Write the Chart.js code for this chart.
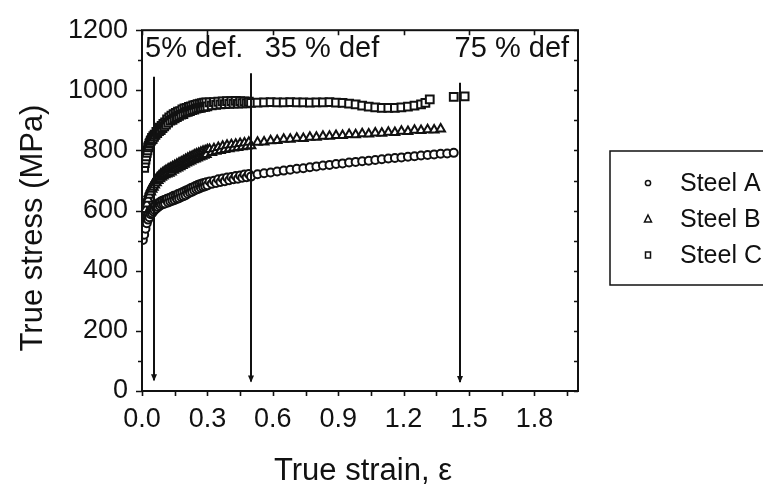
<!DOCTYPE html>
<html><head><meta charset="utf-8">
<script src="https://cdn.jsdelivr.net/npm/chart.js@4.4.1/dist/chart.umd.min.js"></script>
<style>html,body{margin:0;padding:0;background:#fff;overflow:hidden}</style>
</head><body>
<canvas id="c" width="763" height="490"></canvas>
<script>
// ---- data ----
const seriesNames = ["Steel A", "Steel B", "Steel C"];

const strainA = [0.004,0.007,0.010,0.013,0.016,0.019,0.022,0.025,0.028,0.031,0.034,0.037,0.040,0.043,0.046,0.049,0.052,0.055,0.058,
  0.062,0.066,0.070,0.074,0.078,0.082,0.086,0.090,0.094,0.098,0.102,0.106,0.110,
  0.115,0.120,0.125,0.130,0.135,0.140,0.145,0.150,0.155,0.160,0.165,0.170,0.175,0.180,0.185,0.190,0.195,0.200,0.205,0.210,0.215,0.220,0.225,0.230,0.235,0.240,0.245,0.250,0.255,0.260,0.265,0.270,0.275,0.280,0.285,0.290,0.295,0.300,
  0.31,0.32,0.33,0.34,0.35,0.36,0.37,0.38,0.39,0.40,0.41,0.42,0.43,0.44,0.45,0.46,0.47,0.48,0.49,0.50,
  0.53,0.56,0.59,0.62,0.65,0.68,0.71,0.74,0.77,0.80,0.83,0.86,0.89,0.92,0.95,0.98,1.01,1.04,1.07,1.10,1.13,1.16,1.19,1.22,1.25,1.28,1.31,1.34,1.37,1.40,1.43];
const stressA = [502,522,520,546,540,565,558,580,570,589,578,598,588,603,591,608,597,613,602,
  617,607,622,612,626,616,630,620,633,622,635,624,637,
  639,627,642,630,645,633,649,635,650,639,655,641,658,645,661,648,664,651,668,656,671,660,675,663,678,667,682,670,685,673,688,676,690,679,692,681,694,684,
  697,689,699,692,704,695,707,698,710,701,712,704,715,706,717,709,720,711,722,713,
  721,724,727,730,733,736,739,741,744,747,750,752,755,757,760,762,764,766,768,771,773,775,777,779,781,783,785,787,789,790,792];

const strainB = [0.004,0.007,0.010,0.013,0.016,0.019,0.022,0.025,0.028,0.031,0.034,0.037,0.040,0.043,0.046,0.049,0.052,0.055,0.058,
  0.062,0.066,0.070,0.074,0.078,0.082,0.086,0.090,0.094,0.098,0.102,0.106,0.110,
  0.115,0.120,0.125,0.130,0.135,0.140,0.145,0.150,0.155,0.160,0.165,0.170,0.175,0.180,0.185,0.190,0.195,0.200,0.205,0.210,0.215,0.220,0.225,0.230,0.235,0.240,0.245,0.250,0.255,0.260,0.265,0.270,0.275,0.280,0.285,0.290,0.295,0.300,
  0.31,0.32,0.33,0.34,0.35,0.36,0.37,0.38,0.39,0.40,0.41,0.42,0.43,0.44,0.45,0.46,0.47,0.48,0.49,0.50,
  0.53,0.56,0.59,0.62,0.65,0.68,0.71,0.74,0.77,0.80,0.83,0.86,0.89,0.92,0.95,0.98,1.01,1.04,1.07,1.10,1.13,1.16,1.19,1.22,1.25,1.28,1.31,1.34,1.37];
const stressB = [552,578,582,603,604,625,622,642,638,656,651,668,662,677,671,686,678,693,685,
  701,693,709,700,715,706,721,711,725,715,729,719,733,
  722,738,724,742,728,746,734,750,738,754,742,758,746,762,750,766,754,770,758,774,762,778,765,781,769,785,772,788,775,791,778,794,781,797,784,799,787,802,
  803,793,806,797,810,800,814,803,817,806,819,808,821,810,823,812,825,814,827,816,
  827,828,832,833,837,837,841,840,844,844,847,847,850,850,853,852,856,855,858,857,861,860,864,863,867,866,869,868,871];

const strainC = [0.010,0.013,0.016,0.019,0.022,0.025,0.028,0.031,0.034,0.037,0.040,0.043,0.046,0.049,0.052,0.055,0.058,
  0.062,0.066,0.070,0.074,0.078,0.082,0.086,0.090,0.094,0.098,0.102,0.106,0.110,
  0.115,0.120,0.125,0.130,0.135,0.140,0.145,0.150,0.155,0.160,0.165,0.170,0.175,0.180,0.185,0.190,0.195,0.200,0.205,0.210,0.215,0.220,0.225,0.230,0.235,0.240,0.245,0.250,0.255,0.260,0.265,0.270,0.275,0.280,0.285,0.290,0.295,0.300,
  0.31,0.32,0.33,0.34,0.35,0.36,0.37,0.38,0.39,0.40,0.41,0.42,0.43,0.44,0.45,0.46,0.47,0.48,0.49,0.50,
  0.53,0.56,0.59,0.62,0.65,0.68,0.71,0.74,0.77,0.80,0.83,0.86,0.89,0.92,0.95,0.98,1.01,1.04,1.07,1.10,1.13,1.16,1.19,1.22,1.25,1.28,1.30,1.32,1.43,1.48];
const stressC = [742,758,770,780,792,800,810,815,823,826,832,835,842,838,848,845,853,
  852,862,858,870,864,876,868,882,874,888,880,893,886,
  903,893,910,899,916,902,921,907,925,911,929,915,931,919,937,921,940,927,942,928,945,931,947,934,950,936,952,939,954,941,956,942,957,944,959,945,960,947,
  960,950,961,952,962,953,963,954,964,955,964,956,965,956,964,957,963,957,962,958,
  959,960,961,960,960,961,960,960,959,960,960,961,959,958,956,953,949,946,943,942,942,942,943,946,949,953,958,970,978,980];

// axes
const xMin = 0, xMax = 2.0, xStep = 0.3;
const yMin = 0, yMax = 1200, yStep = 200;
const xTitle = "True strain, \u03b5";
const yTitle = "True stress (MPa)";

// deformation markers (vertical arrows) and their labels
const arrowStrain = [0.055, 0.50, 1.46];
const arrowTop = [1045, 1057, 1025];
const arrowBottom = [36, 32, 30];
const defLabels = ["5% def.", "35 % def", "75 % def"];
const defLabelStrain = [0.014, 0.563, 1.434];
const defLabelStress = 1112;

// ---- chart ----
const FONT = "'Liberation Sans', Arial, sans-serif";
const INK = "#111111";

function pts(xs, ys) { return xs.map((x, i) => ({ x: x, y: ys[i] })); }

const styles = [
  { pointStyle: 'circle', pointRadius: 4 },
  { pointStyle: 'triangle', pointRadius: 5 },
  { pointStyle: 'rect', pointRadius: 5.5 }
];
const dataXY = [pts(strainA, stressA), pts(strainB, stressB), pts(strainC, stressC)];

const datasets = seriesNames.map((n, i) => ({
  label: n,
  data: dataXY[i],
  showLine: false,
  pointStyle: styles[i].pointStyle,
  pointRadius: styles[i].pointRadius,
  pointBorderWidth: 2,
  pointBorderColor: INK,
  pointBackgroundColor: '#fff',
  borderColor: INK,
  backgroundColor: '#fff'
}));

const decor = {
  id: 'decor',
  afterDraw(chart) {
    const ctx = chart.ctx;
    const xs = chart.scales.x, ys = chart.scales.y;
    const a = chart.chartArea;
    ctx.save();
    ctx.strokeStyle = INK;
    ctx.fillStyle = INK;
    // frame
    ctx.lineWidth = 2;
    ctx.strokeRect(a.left, a.top, a.right - a.left, a.bottom - a.top);
    // ticks
    ctx.lineWidth = 1.6;
    ctx.beginPath();
    for (let v = yMin; v <= yMax + 1e-9; v += yStep / 2) {
      const y = Math.round(ys.getPixelForValue(v)) + 0.5;
      const major = Math.abs((v / yStep) - Math.round(v / yStep)) < 1e-6;
      const L = major ? 6 : 4;
      ctx.moveTo(a.left, y); ctx.lineTo(a.left - L, y);
      ctx.moveTo(a.right, y); ctx.lineTo(a.right - 4, y);
    }
    for (let v = xMin; v <= xMax + 1e-9; v += xStep / 2) {
      const x = Math.round(xs.getPixelForValue(v)) + 0.5;
      const major = Math.abs((v / xStep) - Math.round(v / xStep)) < 1e-6;
      ctx.moveTo(x, a.bottom); ctx.lineTo(x, a.bottom + 5);
      if (major) { ctx.moveTo(x, a.top); ctx.lineTo(x, a.top + 5); }
    }
    ctx.stroke();
    // arrows
    ctx.lineWidth = 2;
    for (let i = 0; i < arrowStrain.length; i++) {
      const x = Math.round(xs.getPixelForValue(arrowStrain[i]));
      const y1 = ys.getPixelForValue(arrowTop[i]);
      const y2 = ys.getPixelForValue(arrowBottom[i]);
      ctx.beginPath(); ctx.moveTo(x, y1); ctx.lineTo(x, y2); ctx.stroke();
      ctx.beginPath();
      ctx.moveTo(x - 3, y2 - 6); ctx.lineTo(x + 3, y2 - 6); ctx.lineTo(x, y2 + 1); ctx.closePath();
      ctx.fill();
    }
    // deformation labels
    ctx.font = "29px " + FONT;
    ctx.textBaseline = 'alphabetic';
    ctx.textAlign = 'left';
    for (let i = 0; i < defLabels.length; i++) {
      ctx.fillText(defLabels[i], xs.getPixelForValue(defLabelStrain[i]), ys.getPixelForValue(defLabelStress));
    }
    // axis titles
    ctx.font = "31px " + FONT;
    ctx.textAlign = 'center';
    ctx.fillText(xTitle, (a.left + a.right) / 2 + 3, 480);
    ctx.save();
    ctx.translate(42, 228);
    ctx.rotate(-Math.PI / 2);
    ctx.fillText(yTitle, 0, 0);
    ctx.restore();
    // legend
    const lx = 610, ly = 151, lw = 170, lh = 134;
    ctx.lineWidth = 1.5;
    ctx.strokeRect(lx, ly, lw, lh);
    ctx.font = "25px " + FONT;
    ctx.textAlign = 'left';
    ctx.textBaseline = 'middle';
    const rowY = [183, 219, 255];
    chart.data.datasets.forEach((ds, i) => {
      const mx = 648, my = rowY[i];
      ctx.lineWidth = 1.5;
      ctx.beginPath();
      if (ds.pointStyle === 'circle') { ctx.arc(mx, my, 2.6, 0, Math.PI * 2); }
      else if (ds.pointStyle === 'triangle') { ctx.moveTo(mx, my - 4); ctx.lineTo(mx + 3.5, my + 3); ctx.lineTo(mx - 3.5, my + 3); ctx.closePath(); }
      else { ctx.rect(mx - 2.5, my - 3, 5, 6); }
      ctx.stroke();
      ctx.fillText(ds.label, 680, my + 1);
    });
    ctx.restore();
  }
};

new Chart(document.getElementById('c'), {
  type: 'scatter',
  data: { datasets: datasets },
  options: {
    responsive: false,
    devicePixelRatio: 1,
    animation: false,
    layout: { padding: { top: 25, right: 185, left: 0, bottom: 0 } },
    plugins: { legend: { display: false }, tooltip: { enabled: false } },
    scales: {
      x: {
        type: 'linear', min: xMin, max: xMax,
        grid: { display: false, drawTicks: false },
        border: { display: false },
        ticks: { stepSize: xStep, includeBounds: false, color: INK, padding: 12,
          font: { family: FONT, size: 27 }, maxRotation: 0,
          callback: v => Number(v).toFixed(1) },
        afterFit: s => { s.height = 99; }
      },
      y: {
        type: 'linear', min: yMin, max: yMax,
        grid: { display: false, drawTicks: false },
        border: { display: false },
        ticks: { stepSize: yStep, color: INK, padding: 14,
          font: { family: FONT, size: 27 },
          callback: v => String(v) },
        afterFit: s => { s.width = 142; }
      }
    }
  },
  plugins: [decor]
});
</script>
</body></html>
